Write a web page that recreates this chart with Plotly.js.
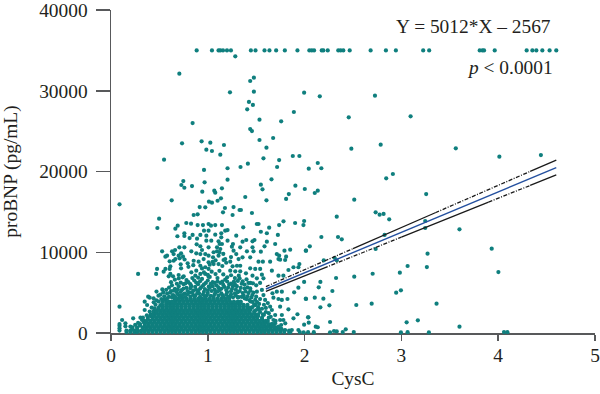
<!DOCTYPE html>
<html><head><meta charset="utf-8">
<script src="https://cdn.plot.ly/plotly-3.0.1.min.js"></script>
<style>html,body{margin:0;padding:0;background:#fff}#c{width:600px;height:394px}</style>
</head><body><div id="c"></div>
<script>
const capX=[0.885,1.043,1.111,1.129,1.157,1.198,1.239,1.445,1.493,1.586,1.637,1.706,1.796,1.926,2.049,2.074,2.098,2.177,2.194,2.239,2.348,2.373,2.4,2.466,2.682,2.84,2.943,3.225,3.287,3.809,3.837,3.854,3.964,4.294,4.353,4.394,4.456,4.531,4.6];
const capY=capX.map(()=>35000);
const sparse=[
[1.284,34260],[0.706,32110],[1.476,31620],[1.438,31210],[1.476,29890],[1.229,29800],[1.425,28610],[1.466,28240],[1.407,27700],[1.889,27370],[1.534,26420],[1.758,26210],[0.843,26000],[1.438,25260],[1.456,25010],[1.534,23900],[1.675,24150],[0.936,23740],[1.026,23570],[0.734,23490],[1.167,23280],[1.606,22950],[0.985,22700],[1.043,22540],[1.129,22080],[1.878,21920],[1.946,21920],[0.548,21460],[1.575,21630],[1.737,21420],[1.414,20970],[1.338,20560],[1.204,20400],[1.716,20560],[0.961,20190],[1.658,19030],[1.204,18990],[0.747,18820],[0.967,18660],[0.727,18330],[0.758,17990],[0.837,18200],[1.548,18370],[1.905,18240],[1.146,17920],[1.565,17790],[1.067,17620],[0.943,17500],[1.077,17380],[1.837,17210],[1.387,16840],
[1.995,29760],[2.157,29310],[2.727,29390],[2.456,26710],[3.095,26830],[2.483,22830],[2.786,23320],[3.562,22870],[4.441,22040],[4.012,21830],[2.136,21050],[2.043,20350],[2.173,20400],[2.912,19690],[2.843,19160],[2.002,17830],[2.136,17620],[2.105,17340],[3.256,17210],
[2.513,16510],[2.734,14950],[2.775,14650],[2.816,14740],[2.874,14080],[1.995,13870],[2.332,14400],[2.173,11890],[2.345,11890],[2.384,11600],[2.054,10730],[2.012,10190],[3.6,12840],[3.246,13870],[3.246,13000],[2.826,12140],[2.734,10400],[3.933,10440],[3.27,9820],[4.002,7550],[2.311,9290],[2.332,9000],[2.198,9000],[3.064,8300],[3.263,8170],[2.984,7470],[2.703,7340],[2.513,6970],[2.325,6810],[1.995,6320],[2.163,6320],[2.146,5660],[2.995,5290],[2.946,4990],[2.287,5200],[2.105,4370],[2.012,4250],[2.194,4250],[2.256,3430],[2.163,3180],[2.534,3470],[2.693,3630],[3.363,3630],[3.17,1570],[3.054,1320],[2.036,1940],[2.043,1280],[1.995,1030],[2.263,1360],[3.6,780],[2.115,780],[2.136,710],[2.425,460],[2.036,100],[2.095,100],[2.263,80],[2.304,250],[2.332,200],[2.394,110],[2.508,110],[2.995,70],[3.064,100],[3.284,70],[4.06,110],[4.095,100],
[0.088,15940],[0.627,16430],[0.916,15600],[0.974,15560],[1.012,16260],[0.854,14610],[0.895,14700],[1.809,16600],[1.606,16430],[1.136,16680],[1.101,16380],[1.043,16140],[1.177,15480],[1.266,15600],[1.328,15230],[1.342,15230],[1.157,14950],[1.456,14860],[1.256,14610],
[0.497,14160],[0.479,13000],[0.778,13620],[0.827,13540],[0.895,13370],[0.95,13370],[1.008,13500],[0.689,13290],[0.665,12920],[0.758,12350],[0.758,12010],[0.686,11980],[0.961,12670],[1.008,12670],[0.843,12140],[0.812,11760],[0.923,12140],[0.985,12050],[0.889,11680],[0.985,11430],[0.885,10980],[0.923,10740],[0.706,10610],[0.758,10610],[0.662,10280],[0.528,10120],[0.83,10120],[0.94,10280],[1.008,10610],[0.579,9570],[0.562,9450],[0.631,10120],[0.647,9780],[0.724,9870],[0.699,9570],[0.881,9870],[0.923,9780],[0.974,9780],[1.008,9570],[0.665,9160],[0.709,9250],[0.744,9450],[0.606,8880],[0.647,8950],[0.792,8630],[0.854,8950],[0.905,8830],[0.957,9160],[1.008,8750],[0.923,8330],[0.974,8140],[0.476,7930],[0.562,7930],[0.613,8260],[0.606,7930],[0.724,8010],[0.466,7310],[0.544,7590],[0.28,7310],[0.83,7520],[0.881,7720],[1.008,7930],[0.613,7310],[0.596,7020],[0.641,7020],[0.699,7180],[0.751,7020],[0.871,7100],[0.923,7310],[0.974,7310],[1.008,6980],
[1.033,13290],[1.077,13370],[1.146,13370],[1.507,13500],[1.524,13500],[1.782,13830],[1.737,13370],[1.902,13620],[1.988,13370],[1.366,13090],[1.634,13040],[1.18,12670],[1.204,12750],[1.077,12180],[1.139,12350],[1.139,11850],[1.548,12540],[1.61,12350],[1.724,12140],[1.294,12050],[1.036,11430],[1.111,11350],[1.204,11430],[1.397,11520],[1.359,11310],[1.462,11350],[1.482,11520],[1.61,11310],[1.696,11020],[1.26,11020],[1.146,11020],[1.122,11020],[1.335,10610],[1.462,10610],[1.586,10730],[1.249,10690],[1.095,10610],[1.129,10400],[1.095,10120],[1.404,10120],[1.472,10120],[1.548,10070],[1.266,10190],[1.294,9780],[1.792,10190],[1.851,10320],[2.015,10190],[1.438,9370],[1.163,9040],[1.18,9160],[1.713,9780],[1.737,9570],[1.73,9160],[1.747,9080],[1.809,9450],[1.799,9040],[1.524,8830],[1.569,8830],[1.644,8830],[1.232,8830],[1.359,9370],[1.318,9160],[1.256,8260],[1.301,8330],[1.335,8330],[1.111,9570],[1.054,9370],[1.111,8540],[1.06,8540],[1.438,8010],[1.49,7930],[1.541,7930],[1.662,7720],[1.232,7720],[1.284,7640],[1.335,7640],[1.394,7390],[1.462,7100],[1.559,7220],[1.73,7100],[1.781,7100],[1.833,7800],[1.885,8140],[1.946,8540],[1.936,8140],
[0.088,3260],[0.115,1610],[0.088,300],[0.088,600],[0.088,900],[0.088,1100],[0.149,1200],[0.149,830],[0.229,1820],[0.304,1900],[0.32,1610],[0.348,3880],[0.384,4500],[0.4,4370],[0.348,2850],[0.373,3470],[0.424,2230],[0.441,3800],[0.47,5130],[0.51,4750],[0.53,5400],
[1.328,6770],[1.507,6770],[1.575,6770],[1.466,6150],[1.438,5540],[1.507,5120],[1.559,5330],[1.575,4700],[1.592,4090],[1.668,4920],[1.713,5120],[1.765,5120],[1.823,4210],[1.678,4370],[1.73,4210],[1.765,4090],[1.936,5610],[1.892,5040],[2.015,4210],[1.833,2930],[1.926,2320],[2.039,1940],[1.644,3260],[1.662,2850],[1.747,3260],[1.765,2230],[1.696,2230],[1.678,1610],[1.747,1610],[1.781,1610],[1.696,1200],[1.758,990],[1.885,1820],[1.936,370],[1.868,370],[1.799,370],[1.851,100],[1.53,3600],[1.49,4100],[1.45,4400],[1.62,3700],[1.6,2600],[1.57,2300],[1.63,1900],[1.7,700],[1.95,120],[1.99,90]
];
const midCloud=[
[0.44,4300],[0.47,4050],[0.49,4620],[0.52,4200],[0.54,5020],[0.55,4550],[0.58,4880],[0.57,5350],[0.6,5620],[0.62,5180],[0.64,4700],[0.66,5480],[0.68,5050],[0.7,5800],[0.71,4620],[0.73,5300],[0.75,6050],[0.76,4880],[0.78,5600],[0.8,6300],[0.81,5020],[0.83,5800],[0.85,4700],[0.86,6500],[0.88,5350],[0.9,6050],[0.91,4900],[0.93,5650],[0.94,6700],[0.96,5100],[0.98,6200],[0.99,4650],[1.01,5750],[1.02,6950],[1.04,5200],[1.05,6300],[1.07,4800],[1.09,5900],[1.1,6800],[1.12,5300],[1.13,6200],[1.15,4700],[1.17,5700],[1.18,6600],[1.2,5050],[1.22,6000],[1.23,4550],[1.25,5450],[1.27,6350],[1.28,4900],[1.3,5800],[1.32,4450],[1.33,5200],[1.35,6100],[1.37,4650],[1.38,5500],[1.4,4200],[1.42,4950],[1.44,3900],[1.46,4700],[1.48,3550],[1.5,4500],[1.52,3200],[1.54,4200],[1.56,3000],[1.58,3500],[1.6,3100],[1.63,2450],[1.65,2000],[1.67,1100],[1.7,1500],[1.73,800],[1.76,500],[1.8,1200],
[0.62,6300],[0.66,6600],[0.7,6750],[0.74,6900],[0.78,6550],[0.84,6800],[0.9,6850],[0.96,7500],[1.0,7200],[1.04,7600],[1.08,7300],[1.12,7700],[1.16,7250],[1.2,6900],[1.24,7150],[1.28,6800],[1.32,7100],[1.36,6400],[1.4,6650],[1.44,6200],[1.5,5900],[1.54,6200],
[0.94,8000],[1.02,8450],[1.05,8800],[1.08,9000],[1.15,8300],[1.19,8700],[1.24,9400],[1.12,10000],[1.16,9800],[1.06,10000],[0.8,8200],[0.85,8400],[0.72,8500],[0.76,9100]
];
const upperDome=[
[0.6,4480],[0.63,4400],[0.65,4620],[0.67,4430],[0.69,4800],[0.72,4450],[0.74,4690],[0.77,4460],[0.79,4800],[0.82,4520],[0.84,5000],[0.87,4600],[0.89,4890],[0.92,4480],[0.95,4780],[0.97,4520],[1.0,4950],[1.03,4600],[1.06,4480],[1.08,5030],[1.11,4620],[1.14,4900],[1.16,4480],[1.19,4740],[1.21,4470],[1.24,4800],[1.26,4420],[1.29,4650],[1.31,4400],[1.35,4480],[1.38,4300],[1.41,4550],[1.43,4080],[1.46,3850],[1.49,3450],[1.51,3820],[1.53,2900],
[0.61,5000],[0.65,5250],[0.69,5420],[0.72,5080],[0.75,5500],[0.79,5200],[0.82,5550],[0.85,5260],[0.87,5700],[0.9,5200],[0.92,5480],[0.95,5850],[0.97,5450],[1.0,5280],[1.02,5600],[1.05,5800],[1.07,5380],[1.1,5150],[1.11,5650],[1.14,5480],[1.16,5950],[1.19,5320],[1.21,5620],[1.24,5180],[1.26,5800],[1.29,5360],[1.31,5050],[1.34,5600],[1.36,4950],[1.39,5150],[1.41,5650],[1.44,5250],[1.47,5000],
[0.63,5900],[0.68,6100],[0.72,6250],[0.77,6150],[0.82,6050],[0.88,6250],[0.92,6400],[0.96,6020],[1.0,6500],[1.03,6080],[1.07,6200],[1.1,6400],[1.15,6350],[1.2,6380],[1.24,6120],[1.28,6050],[1.31,6450],[1.38,6000],[1.42,6200],
[0.46,3500],[0.49,3900],[0.51,3450],[0.53,3850],[0.55,4150],[0.58,4280],[0.42,3150],[0.45,3050],[0.4,2650],[0.37,2200],[0.33,1900],[0.28,1250],[0.25,1000],[0.2,800],[1.46,3200],[1.5,2850],[1.54,2600],[1.58,2250],[1.62,1500],[1.68,800]
];
const allPairs=sparse.concat(midCloud,upperDome);
const sparseX=allPairs.map(p=>p[0]);
const sparseY=allPairs.map(p=>p[1]);
const rowY=[120,500,900,1300,1700,2100,2500,2900,3300,3700,4100];
const rowYb=[310,700,1100,1500,1900,2300,2700,3100,3500,3900,4250];
const rowX=[
[0.16,0.2,0.24,0.27,0.31,0.35,0.39,0.43,0.47,0.51,0.55,0.59,0.63,0.67,0.71,0.75,0.79,0.83,0.87,0.91,0.95,0.99,1.03,1.07,1.11,1.15,1.19,1.23,1.27,1.31,1.35,1.39,1.43,1.47,1.51,1.55,1.59,1.63,1.67,1.71,1.75,1.79,1.84],
[0.22,0.27,0.33,0.37,0.41,0.45,0.49,0.53,0.57,0.61,0.65,0.69,0.73,0.77,0.81,0.85,0.89,0.93,0.97,1.01,1.05,1.09,1.13,1.17,1.21,1.25,1.29,1.33,1.37,1.41,1.45,1.49,1.53,1.57,1.61,1.65,1.69,1.73],
[0.3,0.35,0.39,0.43,0.47,0.51,0.55,0.59,0.63,0.67,0.71,0.75,0.79,0.83,0.87,0.91,0.95,0.99,1.03,1.07,1.11,1.15,1.19,1.23,1.27,1.31,1.35,1.39,1.43,1.47,1.51,1.55,1.59,1.63,1.66],
[0.34,0.37,0.41,0.45,0.49,0.53,0.57,0.61,0.65,0.69,0.73,0.77,0.81,0.85,0.89,0.93,0.97,1.01,1.05,1.09,1.13,1.17,1.21,1.25,1.29,1.33,1.37,1.41,1.45,1.49,1.53,1.57,1.6],
[0.38,0.43,0.47,0.51,0.55,0.59,0.63,0.67,0.71,0.75,0.79,0.83,0.87,0.91,0.95,0.99,1.03,1.07,1.11,1.15,1.19,1.23,1.27,1.31,1.35,1.39,1.43,1.47,1.51,1.56],
[0.41,0.45,0.49,0.53,0.57,0.61,0.65,0.69,0.73,0.77,0.81,0.85,0.89,0.93,0.97,1.01,1.05,1.09,1.13,1.17,1.21,1.25,1.29,1.33,1.37,1.41,1.45,1.49,1.52],
[0.44,0.47,0.51,0.55,0.59,0.63,0.67,0.71,0.75,0.79,0.83,0.87,0.91,0.95,0.99,1.03,1.07,1.11,1.15,1.19,1.23,1.27,1.31,1.35,1.39,1.43,1.48],
[0.49,0.53,0.57,0.61,0.65,0.69,0.73,0.77,0.81,0.85,0.89,0.93,0.97,1.01,1.05,1.09,1.13,1.17,1.21,1.25,1.29,1.33,1.37,1.41,1.44],
[0.53,0.57,0.61,0.65,0.69,0.73,0.77,0.81,0.85,0.89,0.93,0.97,1.01,1.05,1.09,1.13,1.17,1.21,1.25,1.29,1.33,1.37,1.41],
[0.57,0.6,0.63,0.67,0.71,0.75,0.79,0.83,0.87,0.91,0.95,0.99,1.03,1.07,1.11,1.15,1.19,1.23,1.27,1.31,1.34],
[0.66,0.7,0.74,0.78,0.82,0.86,0.9,0.94,0.98,1.02,1.06,1.1,1.14,1.18,1.22]
];
const denseX=[],denseY=[];
rowX.forEach((xs,i)=>xs.forEach(v=>{denseX.push(v,v);denseY.push(rowY[i],rowYb[i]);}));
const fitX=[1.6,4.6];
const fitY=[5452,20488];
const upperX=[1.6,2.5,3.35,4.33,4.6];
const upperY=[5750,10450,14890,20010,21420];
const lowerX=[1.6,2.2,3.0,3.9,4.33,4.6];
const lowerY=[5150,8035,11880,16210,18270,19570];
const TEAL='#0f7f7e', INK='#231f20', AX='#58595b';
const seg=(xs,ys,i,j,dash)=>({x:xs.slice(i,j+1),y:ys.slice(i,j+1),type:'scatter',mode:'lines',showlegend:false,hoverinfo:'skip',cliponaxis:false,line:{color:'#1a1a1a',width:1.3,dash}});
const pts=(x,y)=>({x,y,type:'scatter',mode:'markers',showlegend:false,cliponaxis:false,marker:{color:TEAL,size:4.2,line:{width:0}}});
const traces=[
 pts(denseX,denseY),pts(sparseX,sparseY),pts(capX,capY),
 seg(upperX,upperY,0,1,'4px,1.5px,1px,1.5px'),seg(upperX,upperY,1,2,'solid'),seg(upperX,upperY,2,3,'4px,1.5px,1px,1.5px'),seg(upperX,upperY,3,4,'solid'),
 seg(lowerX,lowerY,0,1,'solid'),seg(lowerX,lowerY,1,2,'4px,1.5px,1px,1.5px'),seg(lowerX,lowerY,2,3,'solid'),seg(lowerX,lowerY,3,4,'4px,1.5px,1px,1.5px'),seg(lowerX,lowerY,4,5,'solid'),
 {x:fitX,y:fitY,type:'scatter',mode:'lines',showlegend:false,hoverinfo:'skip',line:{color:'#24509f',width:1.4}}
];
const F='"Liberation Serif",serif', FS=19.4;
const layout={
 width:600,height:394,paper_bgcolor:'#fff',plot_bgcolor:'#fff',showlegend:false,
 margin:{l:110.5,r:5,t:10,b:61},
 font:{family:F,color:INK,size:FS},
 xaxis:{range:[0,5],tickvals:[0,1,2,3,4,5],ticktext:['0','1','2','3','4','5'],showgrid:false,zeroline:false,showline:true,linecolor:AX,linewidth:1.5,ticks:'outside',ticklen:6,tickwidth:1.5,tickcolor:AX,tickfont:{family:F,size:FS,color:INK},ticklabelstandoff:-2,layer:'below traces',title:{text:'CysC',standoff:6,font:{family:F,size:FS,color:INK}}},
 yaxis:{range:[0,40000],tickvals:[0,10000,20000,30000,40000],ticktext:['0','10000','20000','30000','40000'],showgrid:false,zeroline:false,showline:true,linecolor:AX,linewidth:1.5,ticks:'outside',ticklen:14,tickwidth:1.5,tickcolor:AX,tickfont:{family:F,size:FS,color:INK},ticklabelstandoff:4,ticklabeloverflow:'allow',layer:'below traces',title:{text:'proBNP (pg/mL)',standoff:16,font:{family:F,size:FS,color:INK}}},
 annotations:[
  {xref:'paper',yref:'paper',x:1,y:1,text:'Y = 5012*X – 2567',showarrow:false,xanchor:'right',yanchor:'middle',font:{family:F,size:FS,color:INK},xshift:-42,yshift:-16},
  {xref:'paper',yref:'paper',x:1,y:1,text:'<i>p</i> < 0.0001',showarrow:false,xanchor:'right',yanchor:'middle',font:{family:F,size:FS,color:INK},xshift:-40,yshift:-57}
 ]
};
Plotly.newPlot('c',traces,layout,{staticPlot:true,displayModeBar:false});
</script></body></html>
